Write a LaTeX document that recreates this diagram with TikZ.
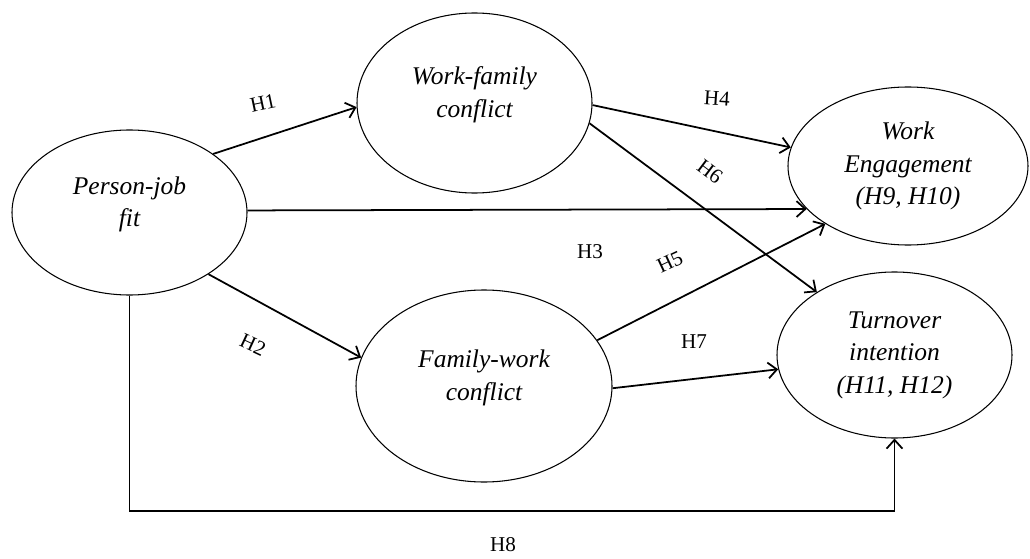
\documentclass[tikz,border=0pt]{standalone}
\usepackage{fontspec}
\setmainfont{Liberation Serif}
\usetikzlibrary{shapes.geometric, arrows.meta}

\begin{document}
\begin{tikzpicture}[
    var/.style={ellipse, draw, line width=0.6pt, inner sep=0pt, align=center,
        font=\fontsize{14.5}{18.5}\selectfont\itshape},
    hyp/.style={font=\fontsize{12}{14}\selectfont},
    path/.style={line width=1pt, -{Straight Barb[length=5pt,width=9pt]}}
  ]
    \useasboundingbox (0,0) rectangle (20.6,11.16);

    \node[var, minimum width=4.70cm, minimum height=3.30cm] at (2.59,6.91)  (pj) {Person-job\\fit\\[-6pt]\mbox{}};
    \node[var, minimum width=4.70cm, minimum height=3.60cm] at (9.49,9.10)  (wf) {Work-family\\conflict\\[-6pt]\mbox{}};
    \node[var, minimum width=5.12cm, minimum height=3.84cm] at (9.68,3.44)  (fw) {Family-work\\conflict\\[-6pt]\mbox{}};
    \node[var, minimum width=4.80cm, minimum height=3.16cm] at (18.16,7.84) (we) {Work\\Engagement\\(H9, H10)};
    \node[var, minimum width=4.70cm, minimum height=3.32cm] at (17.89,4.06) (ti) {Turnover\\intention\\(H11, H12)};

    \coordinate (h8c) at (10.06,0.94);

    \node[hyp, rotate=12]  at (5.26,9.10)  (h1) {H1};
    \node[hyp, rotate=-25] at (5.06,4.26)  (h2) {H2};
    \node[hyp]             at (11.80,6.12) (h3) {H3};
    \node[hyp, rotate=-4]  at (14.34,9.20) (h4) {H4};
    \node[hyp, rotate=25]  at (13.40,5.92) (h5) {H5};
    \node[hyp, rotate=-37] at (14.20,7.72) (h6) {H6};
    \node[hyp]             at (13.88,4.32) (h7) {H7};
    \node[hyp]             at (10.06,0.26) (h8) {H8};

    \draw[path] (pj.35) -- (wf.182);
    \draw[path] (pj.-38) -- (fw.167);
    \draw[path] (pj.1) -- (we.203);
    \draw[path] (wf.-1) -- (we.171);
    \draw[path] (wf.-10) -- (ti.141);
    \draw[path] (fw.22) -- (we.215);
    \draw[path] (fw.-1) -- (ti.187);
    \draw[path] (pj.south) |- (h8c) -| (ti.south);
\end{tikzpicture}
\end{document}
